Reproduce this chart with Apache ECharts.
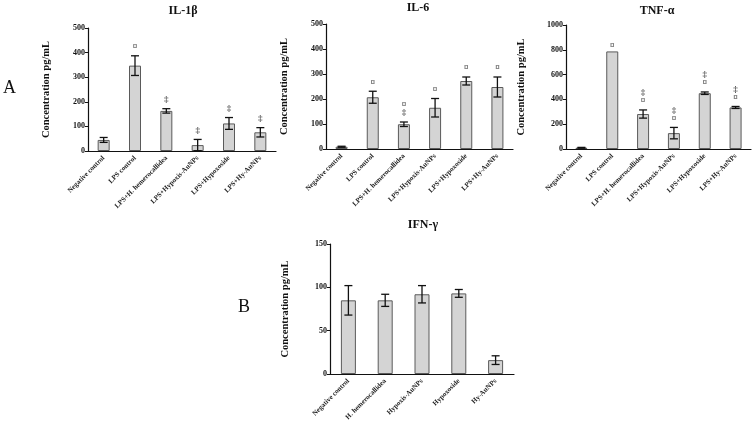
<!DOCTYPE html>
<html>
<head>
<meta charset="utf-8">
<script src="https://cdn.jsdelivr.net/npm/echarts@6/dist/echarts.min.js"></script>
<style>html,body{margin:0;padding:0;background:#fff}#c{width:752px;height:430px}</style>
</head>
<body>
<div id="c"></div>
<script>
var catsLPS = ['Negative control','LPS control','LPS+H. hemerocallidea','LPS+Hypoxis-AuNPs','LPS+Hypoxoside','LPS+Hy-AuNPs'];
var catsIFN = ['Negative control','H. hemerocallidea','Hypoxis-AuNPs','Hypoxoside','Hy-AuNPs'];

var il1bMean = [45, 347, 163, 24, 112, 76];
var il1bErr  = [10, 40, 9, 23, 24, 19];
var il1bMarks = ['', '¤', '‡', '‡', '‡', '‡'];

var il6Mean = [9, 207, 99, 165, 272, 248];
var il6Err  = [2, 24, 9, 37, 16, 40];
var il6Marks = ['', '¤', '¤‡', '¤', '¤', '¤'];

var tnfMean = [10, 787, 282, 128, 450, 335];
var tnfErr  = [3, 0, 33, 46, 10, 8];
var tnfMarks = ['', '¤', '‡¤', '‡¤', '‡¤', '‡¤'];

var ifnMean = [85, 85, 92, 93, 16];
var ifnErr  = [17, 7, 10, 4.5, 5];
var ifnMarks = ['', '', '', '', ''];

var panels = [
  {title:'IL-1β', cats:catsLPS, mean:il1bMean, err:il1bErr, marks:il1bMarks, max:500, interval:100,
   grid:{left:88, top:28, width:188, height:123}, tx:183, ty:5, barW:12, nameGap:36},
  {title:'IL-6', cats:catsLPS, mean:il6Mean, err:il6Err, marks:il6Marks, max:500, interval:100,
   grid:{left:326, top:24, width:187, height:125}, tx:418, ty:2, barW:12, nameGap:36},
  {title:'TNF-α', cats:catsLPS, mean:tnfMean, err:tnfErr, marks:tnfMarks, max:1000, interval:200,
   grid:{left:566, top:25, width:185, height:124}, tx:657, ty:5, barW:12, nameGap:39},
  {title:'IFN-γ', cats:catsIFN, mean:ifnMean, err:ifnErr, marks:ifnMarks, max:150, interval:50,
   grid:{left:330, top:244, width:184, height:130}, tx:423, ty:219, barW:15, nameGap:39}
];

var FF = '"Liberation Serif", "Times New Roman", serif';
var option = {
  animation:false,
  backgroundColor:'#fff',
  title:[], grid:[], xAxis:[], yAxis:[], series:[],
  graphic:[
    {type:'text', left:3, top:79, style:{text:'A', font:'18px '+FF, fill:'#111'}},
    {type:'text', left:238, top:298, style:{text:'B', font:'18px '+FF, fill:'#111'}}
  ]
};

panels.forEach(function(p, i){
  option.title.push({text:p.title, left:p.tx, top:p.ty, textAlign:'center', padding:0,
    textStyle:{fontFamily:FF, fontWeight:'bold', fontSize:12, color:'#111'}});
  option.grid.push(p.grid);
  option.xAxis.push({type:'category', gridIndex:i, data:p.cats,
    axisLine:{lineStyle:{color:'#111', width:1.2}}, axisTick:{show:false},
    axisLabel:{rotate:45, interval:0, fontFamily:FF, fontWeight:'bold', fontSize:7, color:'#222', margin:6}});
  option.yAxis.push({type:'value', gridIndex:i, min:0, max:p.max, interval:p.interval,
    name:'Concentration pg/mL', nameLocation:'middle', nameGap:p.nameGap, nameRotate:90,
    nameTextStyle:{fontFamily:FF, fontWeight:'bold', fontSize:10.5, color:'#111'},
    axisLine:{show:true, lineStyle:{color:'#111', width:1.2}},
    axisTick:{show:true, length:3, lineStyle:{color:'#111'}},
    splitLine:{show:false},
    axisLabel:{fontFamily:FF, fontWeight:'bold', fontSize:8, color:'#111', margin:3,
      formatter:function(v){ return String(v); }}});
  option.series.push({type:'bar', xAxisIndex:i, yAxisIndex:i, data:p.mean, barWidth:p.barW,
    itemStyle:{color:'#d4d4d4', borderColor:'#5a5a5a', borderWidth:1}});
  var d = p.mean.map(function(m, k){ return [k, m, p.err[k], k]; });
  option.series.push({type:'custom', xAxisIndex:i, yAxisIndex:i, data:d, z:5,
    renderItem:function(params, api){
      var x = api.value(0), m = api.value(1), e = api.value(2), k = api.value(3);
      var top = api.coord([x, m + e]);
      var bot = api.coord([x, m - e]);
      var cw = 4;
      var children = [];
      if (e > 0) {
        children.push({type:'line', shape:{x1:top[0], y1:top[1], x2:bot[0], y2:bot[1]}, style:{stroke:'#111', lineWidth:1.3}});
        children.push({type:'line', shape:{x1:top[0]-cw, y1:top[1], x2:top[0]+cw, y2:top[1]}, style:{stroke:'#111', lineWidth:1.3}});
        children.push({type:'line', shape:{x1:bot[0]-cw, y1:bot[1], x2:bot[0]+cw, y2:bot[1]}, style:{stroke:'#111', lineWidth:1.3}});
      }
      var marks = p.marks[k] || '';
      var n = marks.length;
      for (var j = 0; j < n; j++) {
        var ch = marks.charAt(n - 1 - j);
        children.push({type:'text', x:top[0], y:top[1] - (e > 0 ? 9 : 6) - 8*j,
          style:{text:ch, font:'bold 9px '+FF, fill:'#555', align:'center', verticalAlign:'middle'}});
      }
      return {type:'group', children:children};
    }});
});

var chart = echarts.init(document.getElementById('c'), null, {renderer:'canvas'});
chart.setOption(option);
</script>
</body>
</html>
